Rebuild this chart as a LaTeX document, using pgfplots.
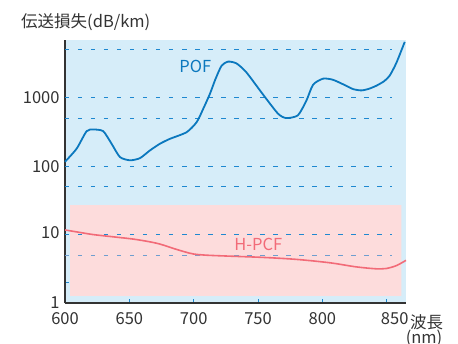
\documentclass[border=0pt]{standalone}
\usepackage{fontspec}
\setmainfont{Noto Sans CJK JP}
\usepackage{pgfplots}
\pgfplotsset{compat=1.18}
\definecolor{bgblue}{HTML}{D6EDF9}
\definecolor{bgpink}{HTML}{FDDCDC}
\definecolor{lineblue}{HTML}{0B78BE}
\definecolor{linepink}{HTML}{F26B78}
\definecolor{dashblue}{HTML}{1E88D0}
\definecolor{dashgray}{HTML}{6E9ECF}
\definecolor{txt}{HTML}{333333}
\newcommand{\fs}{\fontsize{16.5bp}{19bp}\selectfont}
\begin{document}
\begin{tikzpicture}
\begin{semilogyaxis}[
  scale only axis, width=341bp, height=263bp,
  xmin=600, xmax=865, ymin=1, ymax=7000,
  axis x line=bottom, axis y line=left,
  axis line style={-, draw=txt, line width=1.6bp},
  axis background/.style={fill=bgblue},
  xtick={600,650,700,750,800,850},
  xticklabels={600,650,700,750,800,{\hspace*{16bp}850}},
  ytick={1,2,10,100,1000},
  yticklabels={1,,\raisebox{5bp}{10},100,1000},
  yminorticks=false,
  tick align=inside,
  major tick length=4bp,
  tick style={draw=dashblue, line width=0.9bp},
  ticklabel style={font=\fs, text=txt},
  xticklabel style={yshift=-6bp},
  yticklabel style={xshift=-2bp},
  clip=false,
]
% dashed grid
\addplot[dashblue, line width=1bp, dash pattern=on 4.5bp off 8.5bp] coordinates {(600,5000) (854,5000)};
\addplot[dashblue, line width=1bp, dash pattern=on 4.5bp off 8.5bp] coordinates {(600,1000) (854,1000)};
\addplot[dashblue, line width=1bp, dash pattern=on 4.5bp off 8.5bp] coordinates {(600,500) (854,500)};
\addplot[dashblue, line width=1bp, dash pattern=on 4.5bp off 8.5bp] coordinates {(600,100) (854,100)};
\addplot[dashblue, line width=1bp, dash pattern=on 4.5bp off 8.5bp] coordinates {(600,50) (854,50)};
% pink area
\addplot[fill=bgpink, draw=none] coordinates {(604,1.27) (861.5,1.27) (861.5,27) (604,27) (604,1.27)};
\addplot[dashblue, line width=1bp, dash pattern=on 4.5bp off 8.5bp] coordinates {(600,10) (854,10)};
\addplot[dashgray, line width=1bp, dash pattern=on 4.5bp off 8.5bp] coordinates {(600,5) (854,5)};
% POF
\addplot[lineblue, line width=1.8bp, smooth, tension=0.4] coordinates {
(600,116) (609,180) (616.8,325) (622,344) (629.7,325) (636.2,213)
(642.7,136) (650.5,122) (658.2,131) (666,170) (673.8,213) (681.5,251)
(694.5,314) (702.3,440) (707.4,689) (712.6,1140) (716.8,1850)
(721.7,2950) (726.8,3380) (733.3,3180) (741,2350) (754,1110) (765.6,585)
(772,505) (781,555) (787.6,910) (792.8,1555) (800.5,1905) (808,1840)
(816,1580) (823.8,1342) (830.3,1282) (836,1350) (842,1503) (848,1750)
(852.3,2105) (857.5,3235) (864,6560)};
% H-PCF
\addplot[linepink, line width=1.6bp, smooth, tension=0.5] coordinates {
(600,11.7) (611,10.8) (622,10.0) (637,9.3) (653,8.6) (665,7.9) (674,7.25)
(684,6.3) (693,5.6) (700,5.2) (710,5.0) (728,4.84) (754,4.64) (780,4.34)
(806,3.87) (826,3.38) (842,3.16) (850,3.2) (853,3.3) (858,3.55) (865,4.2)};
\node[font=\fs, text=lineblue] at (axis cs:701.3,2850) {POF};
\node[font=\fs, text=linepink] at (axis cs:750.2,7.25) {H-PCF};
\end{semilogyaxis}
\node[font=\fs, text=txt, anchor=west, inner sep=0pt] at (-44bp,281bp) {伝送損失(dB/km)};
\node[font=\fs, text=txt, inner sep=0pt] at (361.5bp,-19bp) {波長};
\node[font=\fs, text=txt, inner sep=0pt] at (359bp,-35bp) {(nm)};
\pgfresetboundingbox
\path[use as bounding box] (-65bp,-41bp) rectangle (393bp,303bp);
\end{tikzpicture}
\end{document}
